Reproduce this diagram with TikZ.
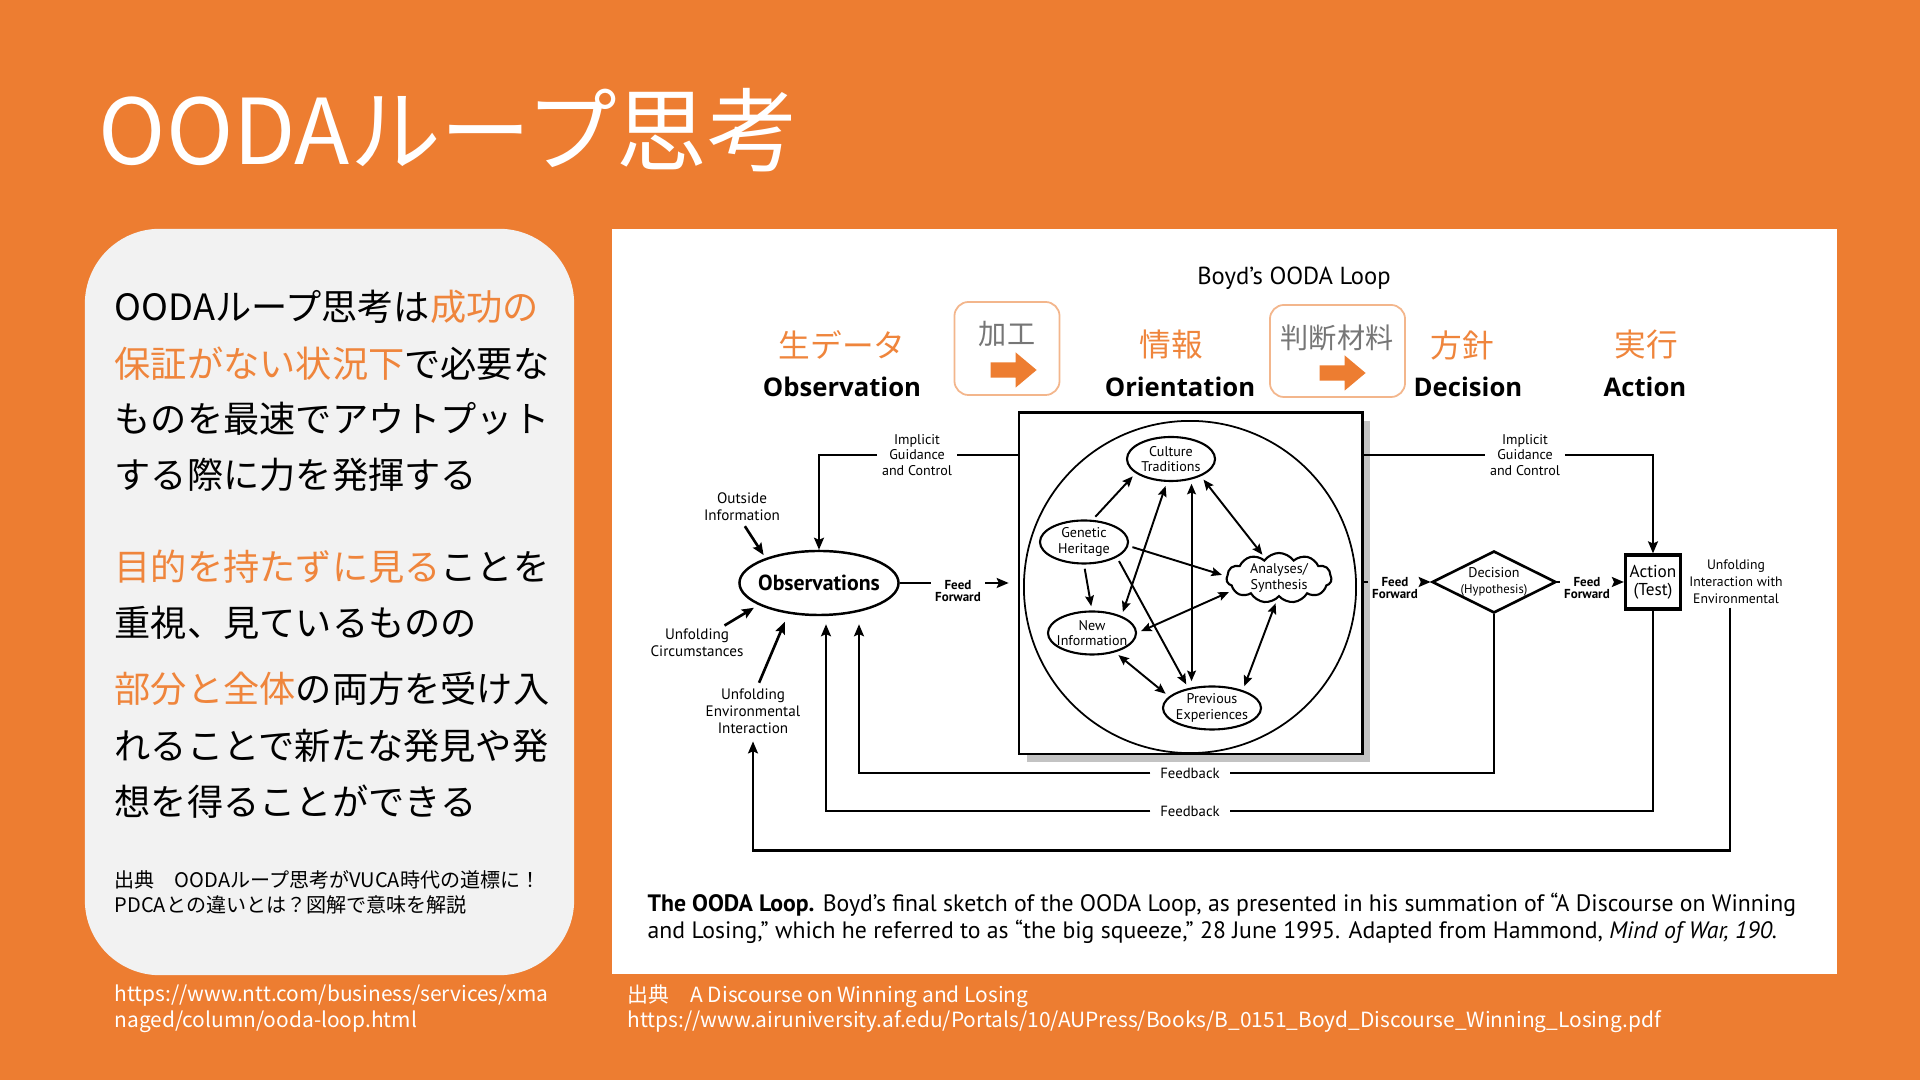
\documentclass[tikz,border=0pt]{standalone}
\usepackage{fontspec}
\setmainfont{Noto Sans CJK JP}
\newfontfamily\diagfont{PT Sans}
\newfontfamily\headfont{Open Sans}
\usetikzlibrary{arrows.meta, positioning, calc, shapes.geometric, shapes.symbols, shapes.arrows, shadows}
\definecolor{slideorange}{RGB}{237,125,49}
\definecolor{hiorange}{RGB}{239,133,60}
\definecolor{cardgray}{RGB}{242,242,242}
\definecolor{cardedge}{RGB}{243,182,140}
\definecolor{notegray}{RGB}{118,118,118}
\definecolor{shadegray}{RGB}{195,195,195}

\begin{document}
\begin{tikzpicture}[x=0.01cm, y=-0.01cm,
    every node/.style={inner sep=0pt},
    conn/.style={line width=0.75pt},
    arr/.style={conn, -{Stealth[length=3.4pt, width=2.8pt, inset=0.6pt]}},
    thin arr/.style={line width=0.55pt, shorten <=1.2pt, shorten >=1.2pt, -{Stealth[length=3pt, width=2.5pt, inset=0.5pt]}},
    both arr/.style={thin arr, {Stealth[length=3pt, width=2.5pt, inset=0.5pt]}-{Stealth[length=3pt, width=2.5pt, inset=0.5pt]}},
    bodytxt/.style={anchor=west, font=\fontsize{10.3pt}{12pt}\selectfont},
    srctxt/.style={anchor=west, font=\fontsize{5.7pt}{7pt}\selectfont},
    urltxt/.style={anchor=west, text=white, font=\fontsize{5.95pt}{7pt}\selectfont},
    small/.style={font=\diagfont\fontsize{4.3pt}{4.9pt}\selectfont, align=center},
    guide/.style={font=\diagfont\fontsize{4pt}{4.3pt}\selectfont, align=center, inner xsep=1.2pt},
    oval/.style={draw, ellipse, line width=0.6pt, align=center, inner xsep=-1.4pt, inner ysep=-0.5pt,
      font=\diagfont\fontsize{4pt}{4.4pt}\selectfont},
    ffwd/.style={font=\diagfont\bfseries\fontsize{3.7pt}{3.5pt}\selectfont, align=center, inner xsep=1pt},
    fback/.style={font=\diagfont\fontsize{4.2pt}{5pt}\selectfont, inner xsep=2.6pt, inner ysep=1pt},
    jplabel/.style={text=hiorange, font=\fontsize{9pt}{10pt}\selectfont},
    enlabel/.style={font=\headfont\bfseries\fontsize{7.3pt}{8pt}\selectfont},
    stepcard/.style={draw=cardedge, line width=0.5pt, rounded corners=4pt, fill=white},
    stepnote/.style={text=notegray, font=\fontsize{8pt}{9pt}\selectfont},
    steparrow/.style={single arrow, fill=slideorange, inner xsep=0pt, inner ysep=0.07cm,
      minimum width=0.34cm, minimum height=0.46cm, single arrow head extend=0.1cm, single arrow tip angle=80},
  ]
  \fill[slideorange] (0,0) rectangle (1920,1080);
  \useasboundingbox (0,0) rectangle (1920,1080);

  % title
  \node[anchor=west, text=white, font=\fontsize{25.8pt}{30pt}\selectfont] (title) at (98,130) {OODAループ思考};

  % left card
  \node[fill=cardgray, rounded corners=0.75cm, minimum width=4.89cm, minimum height=7.46cm] (card) at (329.5,602) {};
  \foreach \yy/\txt [count=\n] in {
      307/{OODAループ思考は\textcolor{hiorange}{成功の}},
      364/{\textcolor{hiorange}{保証がない状況下}で必要な},
      419/{ものを最速でアウトプット},
      475/{する際に力を発揮する},
      567/{\textcolor{hiorange}{目的を持たずに見る}ことを},
      623/{重視、見ているものの},
      689/{\textcolor{hiorange}{部分と全体}の両方を受け入},
      746/{れることで新たな発見や発},
      802/{想を得ることができる}}
    \node[bodytxt] (body\n) at (114,\yy) {\txt};
  \node[srctxt] (srcA) at (114,880) {出典　OODAループ思考がVUCA時代の道標に！};
  \node[srctxt] (srcB) at (114,905) {PDCAとの違いとは？図解で意味を解説};

  % sources
  \node[urltxt] (urlA) at (114,996) {https://www.ntt.com/business/services/xma};
  \node[urltxt] (urlB) at (114,1022) {naged/column/ooda-loop.html};
  \node[urltxt] (urlC) at (627,996) {出典　A Discourse on Winning and Losing};
  \node[urltxt] (urlD) at (627,1022) {https://www.airuniversity.af.edu/Portals/10/AUPress/Books/B\_0151\_Boyd\_Discourse\_Winning\_Losing.pdf};

  % figure panel
  \node[fill=white, minimum width=12.25cm, minimum height=7.45cm] (panel) at (1224.5,601.5) {};
  \node[font=\diagfont\fontsize{7pt}{8pt}\selectfont] (boyd) at (1294,278) {Boyd’s OODA Loop};

  \node[jplabel] (rawlbl) at (842,345) {生データ};
  \node[jplabel] (infolbl) at (1171,345) {情報};
  \node[jplabel] (planlbl) at (1462,345) {方針};
  \node[jplabel] (execlbl) at (1646,345) {実行};
  \node[enlabel] (obslbl) at (842,387) {Observation};
  \node[enlabel] (orilbl) at (1180,387) {Orientation};
  \node[enlabel] (declbl) at (1468,387) {Decision};
  \node[enlabel] (actlbl) at (1645,387) {Action};

  \node[stepcard, minimum width=1.05cm, minimum height=0.93cm] (procbox) at (1007,348.5) {};
  \node[stepnote] (proctxt) at (1007,334) {加工};
  \node[steparrow] (procarr) at (1009,370) {};
  \node[stepcard, minimum width=1.35cm, minimum height=0.92cm] (judgebox) at (1337.5,351) {};
  \node[stepnote] (judgetxt) at (1337,338) {判断材料};
  \node[steparrow] (judgearr) at (1338,373) {};

  % OODA diagram
  \node[draw, ellipse, line width=0.7pt, inner xsep=-3.3pt, minimum width=1.59cm, minimum height=0.64cm,
    font=\diagfont\bfseries\fontsize{6.2pt}{7pt}\selectfont] (obs) at (819,583) {Observations};
  \node[draw, fill=white, line width=0.8pt, minimum width=3.43cm, minimum height=3.41cm,
    drop shadow={shadow xshift=2.3pt, shadow yshift=-2.3pt, opacity=1, fill=shadegray}] (orbox) at (1190.5,583.5) {};
  \node[draw, circle, line width=0.5pt, minimum size=3.32cm] (orcirc) at (1190,587) {};

  \node[oval, minimum width=0.88cm, minimum height=0.44cm] (cult) at (1171,459) {Culture\\Traditions};
  \node[oval, minimum width=0.88cm, minimum height=0.43cm] (gen) at (1084,542) {Genetic\\Heritage};
  \node[oval, minimum width=0.88cm, minimum height=0.43cm] (newi) at (1092,633) {New\\Information};
  \node[oval, minimum width=0.98cm, minimum height=0.43cm] (prev) at (1212,708) {Previous\\Experiences};
  \node[cloud, draw, line width=0.6pt, cloud puffs=11, cloud puff arc=110, aspect=2, inner sep=-1pt,
    minimum width=1.05cm, minimum height=0.5cm, align=center,
    font=\diagfont\fontsize{4pt}{4.4pt}\selectfont] (anal) at (1279,578) {Analyses/\\Synthesis};

  \node[draw, diamond, aspect=2, line width=0.75pt, minimum width=1.22cm, minimum height=0.59cm, align=center,
    font=\diagfont\fontsize{4pt}{4.5pt}\selectfont] (dec) at (1494,582) {Decision\\{\fontsize{3.6pt}{4pt}\selectfont(Hypothesis)}};
  \node[draw, line width=0.9pt, minimum width=0.55cm, minimum height=0.54cm, align=center,
    font=\diagfont\fontsize{4.9pt}{5.1pt}\selectfont] (act) at (1653,582) {Action\\(Test)};

  \node[small] (oinf) at (742,507) {Outside\\Information};
  \node[small] (ucirc) at (697,643) {Unfolding\\Circumstances};
  \node[small] (uenv) at (753,711) {Unfolding\\Environmental\\Interaction};
  \node[guide] (igl) at (917,455) {Implicit\\Guidance\\and Control};
  \node[guide] (igr) at (1525,455) {Implicit\\Guidance\\and Control};
  \node[ffwd] (ffa) at (958,591) {Feed\\Forward};
  \node[ffwd] (ffb) at (1395,588) {Feed\\Forward};
  \node[ffwd] (ffc) at (1587,588) {Feed\\Forward};
  \node[small, font=\diagfont\fontsize{3.9pt}{4.8pt}\selectfont] (unint) at (1736,582) {Unfolding\\Interaction with\\Environmental};
  \node[fback] (fbin) at (1190,773) {Feedback};
  \node[fback] (fbout) at (1190,811) {Feedback};

  % guidance and feed forward
  \draw[conn] (orbox.west |- igl.east) -- (igl.east);
  \draw[arr] (igl.west) -| (obs.north);
  \draw[conn] (orbox.east |- igr.west) -- (igr.west);
  \draw[arr] (igr.east) -| (act.north);
  \draw[conn] (obs.east) -- (obs.east -| ffa.west);
  \draw[arr, shorten >=2.5pt] (obs.east -| ffa.east) -- (obs.east -| orbox.west);
  \draw[conn] (orbox.east |- dec.west) -- (dec.west -| ffb.west);
  \draw[arr] (dec.west -| ffb.east) -- (dec.west);
  \draw[conn] (dec.east) -- (dec.east -| ffc.west);
  \draw[arr] (dec.east -| ffc.east) -- (act.west);

  % inputs to observations
  \draw[arr, shorten <=1.5pt, shorten >=1pt] (oinf.south) -- (obs.155);
  \draw[arr, shorten <=1.5pt, shorten >=1.5pt] ([shift={(23,0)}]ucirc.north) -- (obs.200);
  \draw[arr, shorten <=1.5pt, shorten >=2.5pt] ([shift={(4,0)}]uenv.north) -- (obs.225);

  % feedback loops
  \draw[conn] (dec.south) |- (fbin.east);
  \draw[arr] (fbin.west) -| ($(obs.south)+(40,8)$);
  \draw[conn] (act.south) |- (fbout.east);
  \draw[arr] (fbout.west) -| ($(obs.south)+(7,8)$);
  \draw[arr, shorten >=2pt] ([shift={(-6,3)}]unint.south) -- ++(0,243) -| (uenv.south);

  % inside orientation
  \draw[thin arr] (gen.69) -- (cult.202);
  \draw[thin arr] (gen.south) -- (newi.north);
  \draw[thin arr] (gen.-5) -- (anal.178);
  \draw[thin arr] (gen.-25) -- (prev.140);
  \draw[both arr] (newi.30) -- (cult.-100);
  \draw[both arr] (cult.-45) -- (cult.-45 |- prev.north);
  \draw[both arr] (cult.-30) -- (anal.125);
  \draw[both arr] (newi.east) -- (anal.195);
  \draw[both arr] (newi.-40) -- (prev.165);
  \draw[both arr] (anal.-95) -- (prev.30);

  % caption
  \node[anchor=west, font=\diagfont\fontsize{6.75pt}{7pt}\selectfont] (capA) at (647,905)
    {\textbf{The OODA Loop.} Boyd’s final sketch of the OODA Loop, as presented in his summation of “A Discourse on Winning};
  \node[anchor=west, font=\diagfont\fontsize{6.75pt}{7pt}\selectfont] (capB) at (647,932)
    {and Losing,” which he referred to as “the big squeeze,” 28 June 1995. Adapted from Hammond, \textit{Mind of War, 190.}};
\end{tikzpicture}
\end{document}
